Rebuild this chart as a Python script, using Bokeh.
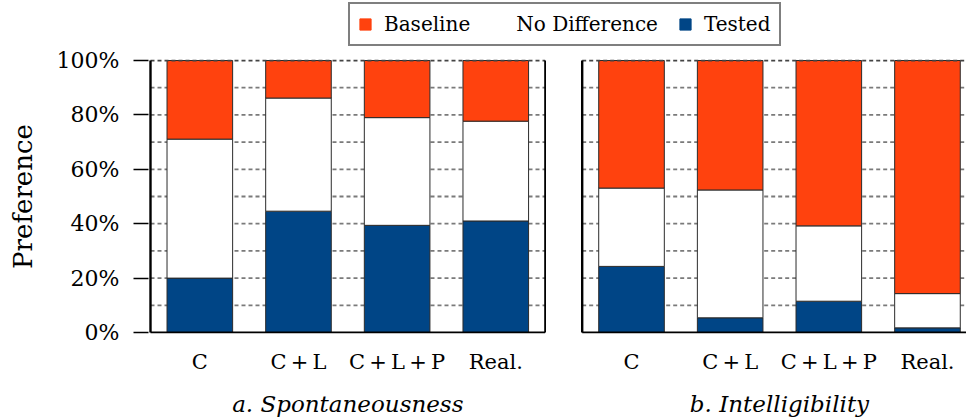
import numpy as np
from bokeh.plotting import figure
from bokeh.layouts import column
from bokeh.models import (Range1d, FixedTicker, LinearAxis, Legend, LegendItem,
                          PrintfTickFormatter)
from bokeh.embed import file_html
from bokeh.resources import INLINE

# ---- data (percent) ----
categories = ["C", "C+L", "C+L+P", "Real."]
panel_titles = ["a. Spontaneousness", "b. Intelligibility"]
series_names = ["Baseline", "No Difference", "Tested"]

spont_tested = [20.0, 44.6, 39.4, 41.0]
spont_nodiff = [51.1, 41.6, 39.6, 36.7]
spont_baseline = [28.9, 13.8, 21.0, 22.3]

intel_tested = [24.3, 5.4, 11.5, 1.7]
intel_nodiff = [28.8, 47.0, 27.7, 12.6]
intel_baseline = [46.9, 47.6, 60.8, 85.7]

y_ticks = [0, 20, 40, 60, 80, 100]
grid_levels = [10, 20, 30, 40, 50, 60, 70, 80, 90]

# ---- styling / layout ----
BLUE = "#004586"
ORANGE = "#FF420E"
FONT = "DejaVu Serif"
BAR_W = 0.665
PANEL_GAP = 0.376
W = 966
LEG_H = 47           # height of the legend strip
MAIN_H = 372         # height of the chart
LEFT, TOP, BOTTOM = 148, 12, 85
PX_X = 98.65         # px per category slot
PAD_Y = 0.37         # percent of headroom so frame lines are not clipped

panels = [
    (spont_tested, spont_nodiff, spont_baseline),
    (intel_tested, intel_nodiff, intel_baseline),
]
offsets = [0.0, round(len(categories) + PANEL_GAP, 3)]
x_start = -0.5 - 2 / PX_X
x_end = x_start + (W - LEFT) / PX_X

p = figure(width=W, height=MAIN_H, x_range=Range1d(x_start, x_end),
           y_range=Range1d(-PAD_Y, 100 + PAD_Y), output_backend="svg",
           toolbar_location=None, min_border_left=LEFT, min_border_right=0,
           min_border_top=TOP, min_border_bottom=BOTTOM)
p.grid.visible = False
p.outline_line_color = None
p.background_fill_color = "white"
p.border_fill_color = "white"

tick_pos = []
tick_labels = {}
for off, (tested, nodiff, base) in zip(offsets, panels):
    xs = [round(off + i, 3) for i in range(len(categories))]
    x0, x1 = off - 0.5, off + len(categories) - 0.5
    # dashed grid
    p.segment(x0=[x0] * len(grid_levels), x1=[x1] * len(grid_levels),
              y0=grid_levels, y1=grid_levels, line_color="#7a7a7a",
              line_width=1.8, line_dash="4 3")
    t = np.array(tested)
    n = np.array(nodiff)
    b = np.array(base)
    p.vbar(x=xs, width=BAR_W, bottom=0, top=t, fill_color=BLUE,
           line_color="#2b2b2b", line_width=1)
    p.vbar(x=xs, width=BAR_W, bottom=t, top=t + n, fill_color="white",
           line_color="#2b2b2b", line_width=1)
    p.vbar(x=xs, width=BAR_W, bottom=t + n, top=t + n + b, fill_color=ORANGE,
           line_color="#2b2b2b", line_width=1)
    # panel frame lines
    p.segment(x0=[x0], x1=[x1], y0=[100], y1=[100], line_color="#444444",
              line_width=1.8, line_dash="4 3")
    p.segment(x0=[x0], x1=[x1], y0=[0], y1=[0], line_color="black", line_width=2.2)
    p.segment(x0=[x0], x1=[x0], y0=[0], y1=[100], line_color="black", line_width=2.4)
    if off == 0:
        p.segment(x0=[x1], x1=[x1], y0=[0], y1=[100], line_color="black", line_width=1.8)
    for x, c in zip(xs, categories):
        tick_pos.append(x)
        tick_labels[x] = c.replace("+", "\u2009+\u2009")

# y axis (ticks only; the panel border is drawn above)
ya = p.yaxis[0]
ya.ticker = FixedTicker(ticks=y_ticks)
ya.formatter = PrintfTickFormatter(format="%d%%")
ya.axis_line_color = None
ya.minor_tick_line_color = None
ya.major_tick_in = 0
ya.major_tick_out = 15
ya.major_tick_line_width = 1.5
ya.major_label_standoff = 14
ya.major_label_text_font = FONT
ya.major_label_text_font_size = "22px"
ya.major_label_text_color = "black"
ya.axis_label = "Preference"
ya.axis_label_text_font = FONT
ya.axis_label_text_font_size = "26px"
ya.axis_label_text_font_style = "normal"
ya.axis_label_text_color = "black"
ya.axis_label_standoff = 16

# category axis
xa = p.xaxis[0]
xa.ticker = FixedTicker(ticks=tick_pos)
xa.major_label_overrides = tick_labels
xa.axis_line_color = None
xa.major_tick_line_color = None
xa.minor_tick_line_color = None
xa.major_tick_out = 0
xa.major_tick_in = 0
xa.major_label_standoff = 16
xa.major_label_text_font = FONT
xa.major_label_text_font_size = "21px"
xa.major_label_text_color = "black"

# panel subtitle axis
centers = [round(off + (len(categories) - 1) / 2, 3) for off in offsets]
sa = LinearAxis(ticker=FixedTicker(ticks=centers),
                major_label_overrides={c: t for c, t in zip(centers, panel_titles)})
sa.axis_line_color = None
sa.major_tick_line_color = None
sa.minor_tick_line_color = None
sa.major_tick_out = 0
sa.major_tick_in = 0
sa.major_label_standoff = 14
sa.major_label_text_font = FONT
sa.major_label_text_font_size = "23px"
sa.major_label_text_font_style = "italic"
sa.major_label_text_color = "black"
p.add_layout(sa, "below")

# legend strip above the chart (its frame is aligned with the chart frame)
lf = figure(width=W, height=LEG_H, x_range=Range1d(0, 1), y_range=Range1d(0, 1),
            output_backend="svg", toolbar_location=None,
            x_axis_type=None, y_axis_type=None,
            min_border_left=0, min_border_right=0, min_border_top=0,
            min_border_bottom=0)
lf.grid.visible = False
lf.outline_line_color = None
lf.background_fill_color = "white"
lf.border_fill_color = "white"

colors = [ORANGE, "white", BLUE]
items = []
for name, col in zip(series_names, colors):
    r = lf.vbar(x=[np.nan], width=0.5, top=[np.nan], fill_color=col,
                line_color=col)
    items.append(LegendItem(label=name, renderers=[r]))
leg = Legend(items=items, orientation="horizontal", location=(200, 1))
leg.label_text_font = FONT
leg.label_text_font_size = "20px"
leg.label_text_color = "black"
leg.glyph_width = 14
leg.glyph_height = 14
leg.label_standoff = 12
leg.spacing = 20
leg.padding = 8
leg.margin = 0
leg.border_line_color = "black"
leg.border_line_width = 2
leg.background_fill_alpha = 1
lf.add_layout(leg, "center")

layout = column(lf, p, spacing=0)
open("out.html", "w").write(file_html(layout, INLINE))
